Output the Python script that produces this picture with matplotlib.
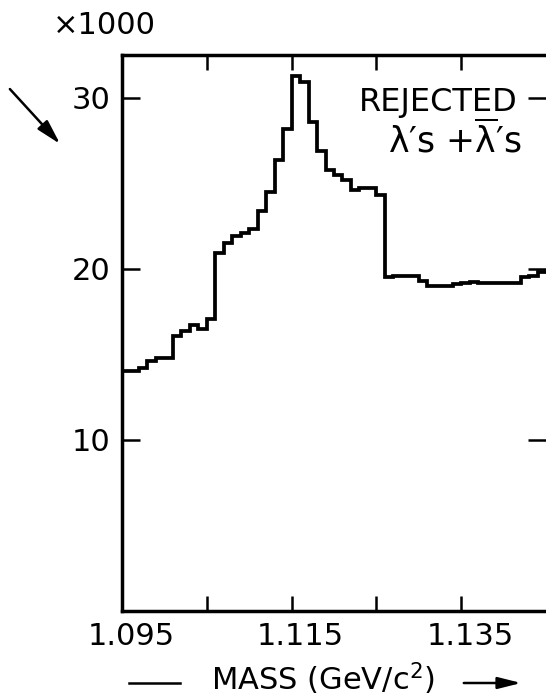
import numpy as np
import matplotlib
matplotlib.use("Agg")
import matplotlib.pyplot as plt
from matplotlib.transforms import ScaledTranslation

plt.rcParams['font.family'] = ['DejaVu Sans']
plt.rcParams['mathtext.fontset'] = 'dejavusans'

# rejected lambda + anti-lambda candidates, events per 1 MeV bin (x1000)
mass_lo = 1.095
bin_width = 0.001
counts = [14.0, 14.0, 14.2, 14.6, 14.8, 14.8, 16.1, 16.35, 16.7, 16.5,
          17.05, 20.9, 21.5, 21.9, 22.1, 22.35, 23.4, 24.5, 26.35, 28.2,
          31.3, 30.9, 28.6, 26.9, 25.8, 25.5, 25.2, 24.6, 24.7, 24.7,
          24.3, 19.5, 19.6, 19.6, 19.6, 19.3, 19.0, 19.0, 19.0, 19.1,
          19.2, 19.25, 19.2, 19.2, 19.2, 19.2, 19.2, 19.5, 19.6, 19.8]
edges = mass_lo + bin_width * np.arange(len(counts) + 1)

xticks = [1.095, 1.105, 1.115, 1.125, 1.135]
xtick_labels = ['1.095', '', '1.115', '', '1.135']
yticks = [10, 20, 30]
ytick_labels = ['10', '20', '30']

W, H = 546, 699
fig = plt.figure(figsize=(W / 100, H / 100), dpi=100)
ax = fig.add_axes([122 / W, 88 / H, 424 / W, 556 / H])

ax.stairs(counts, edges, baseline=None, color='black', lw=2.7)

ax.set_xlim(1.095, 1.145)
ax.set_ylim(0, 32.5)
for side in ['left', 'bottom', 'top']:
    ax.spines[side].set_linewidth(2.5)
ax.spines['right'].set_visible(False)

ax.set_xticks(xticks)
ax.set_xticklabels(xtick_labels)
ax.set_yticks(yticks)
ax.set_yticklabels(ytick_labels)
ax.tick_params(axis='both', direction='in', width=1.8, labelsize=22,
               top=True, right=True)
ax.tick_params(axis='x', length=11, pad=8)
ax.tick_params(axis='y', length=13, pad=8)

# hand lettered labels sit a little right of their ticks
shift = ScaledTranslation(0.09, 0, fig.dpi_scale_trans)
for lab in ax.get_xticklabels():
    lab.set_transform(lab.get_transform() + shift)

fig.text(104 / W, 1 - 25 / H, '\u00d71000', fontsize=22,
         ha='center', va='center')
fig.text(438 / W, 1 - 102 / H, 'REJECTED', fontsize=23,
         ha='center', va='center')
fig.text(455 / W, 1 - 140 / H,
         r"$\mathrm{\lambda}$′s $+\overline{\mathrm{\lambda}}$′s",
         fontsize=25, ha='center', va='center')

# axis title with arrows either side
fig.text(323 / W, 1 - 679 / H, 'MASS (GeV/c$^2$)', fontsize=22,
         ha='center', va='center')
fig.add_artist(plt.Line2D([129 / W, 180 / W], [1 - 683 / H] * 2,
                          color='black', lw=1.8))
ax.annotate('', xy=(524, H - 683), xytext=(461, H - 683),
            xycoords='figure pixels', textcoords='figure pixels',
            arrowprops=dict(arrowstyle='-|>,head_length=1.4,head_width=0.35',
                            color='black', lw=1.8))
ax.annotate('', xy=(62, H - 146), xytext=(8, H - 87),
            xycoords='figure pixels', textcoords='figure pixels',
            arrowprops=dict(arrowstyle='-|>,head_length=1.5,head_width=0.4',
                            color='black', lw=1.8))

fig.savefig('out.png', dpi=100)
